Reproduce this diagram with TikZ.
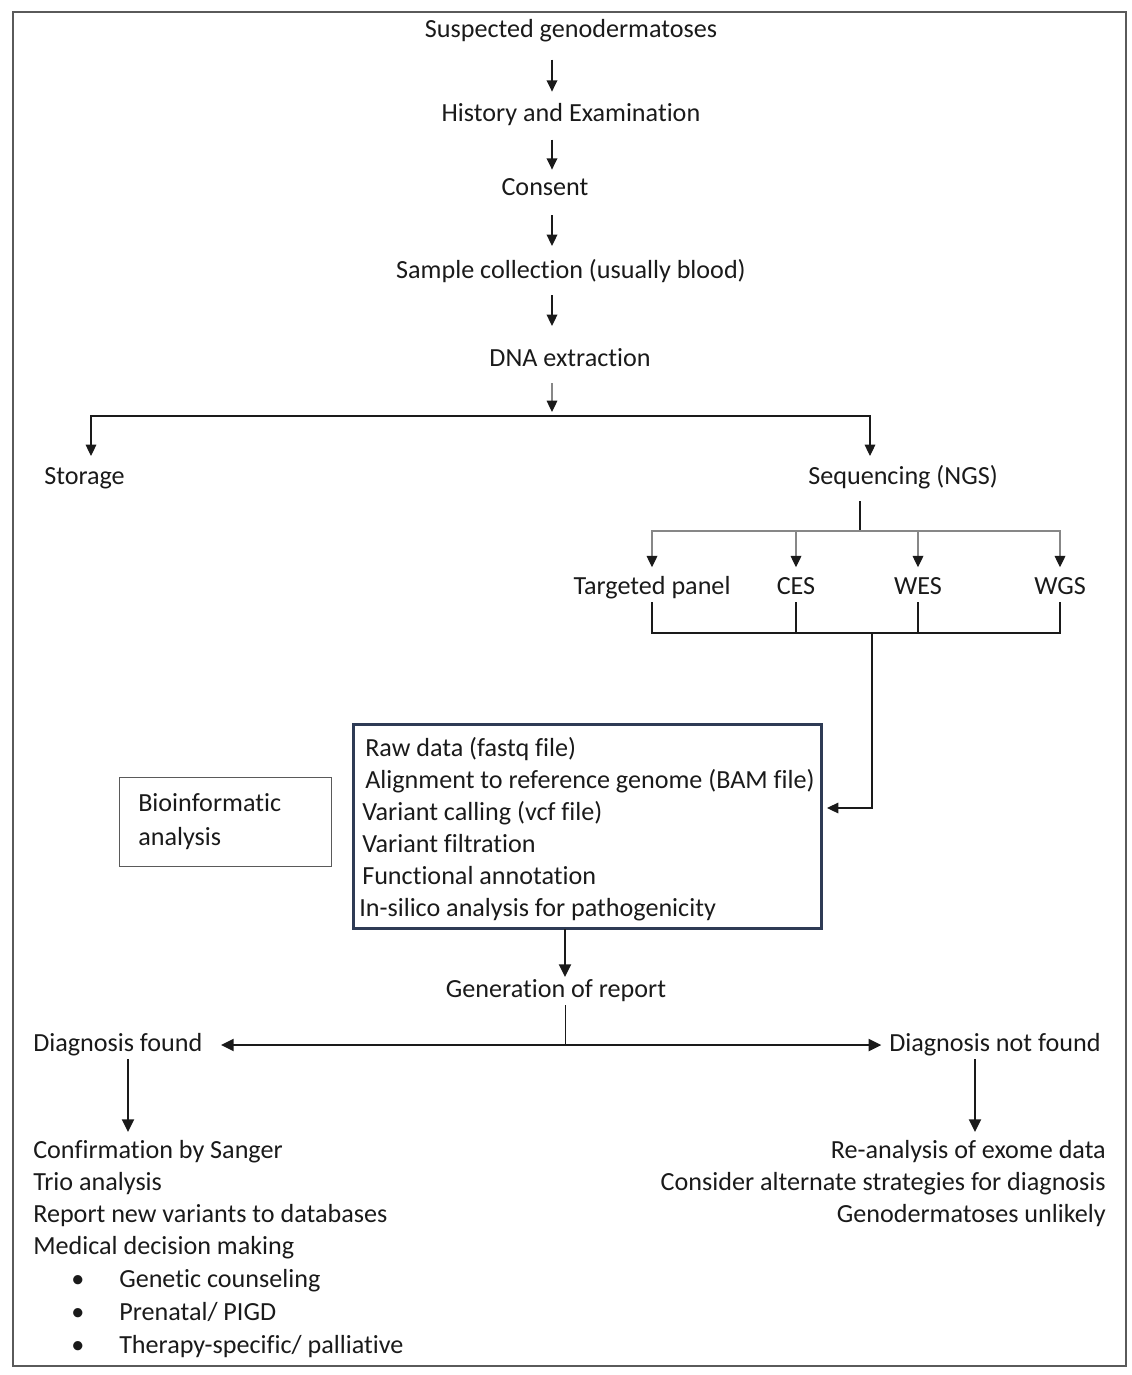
\documentclass[tikz,border=0pt]{standalone}
\usepackage{fontspec}
\setmainfont{Carlito}[Ligatures=NoCommon]
\usetikzlibrary{arrows.meta}
\definecolor{txt}{RGB}{26,26,26}
\definecolor{navy}{RGB}{46,59,85}
\definecolor{lgray}{RGB}{135,135,135}
\definecolor{frame}{RGB}{90,90,90}

\begin{document}
\begin{tikzpicture}[x=0.75pt,y=0.75pt,yscale=-1,xscale=1,
  every node/.style={inner sep=0.75pt, text=txt, font=\fontsize{19.6}{24}\selectfont, text height=14.5pt, text depth=4.7pt},
  tip/.style={-{Triangle[length=8.5pt,width=8pt]}},
  arr/.style={draw=txt, line width=1.1pt, tip},
  arrthin/.style={draw=txt, line width=0.8pt, tip},
  arrgray/.style={draw=lgray, line width=0.9pt, -{Triangle[length=8.5pt,width=8pt,color=txt]}},
  arrbold/.style={draw=txt, line width=1.5pt, -{Triangle[length=9.5pt,width=9pt]}},
  link/.style={draw=txt, line width=0.9pt},
]
\useasboundingbox (0,0) rectangle (1132,1375);
%outer frame
\draw [frame, line width=0.8pt] (13,12) rectangle (1126,1366);

% Text Node
\node (susp) at (571,31) {Suspected genodermatoses};
\node (hist) at (571,115) {History and Examination};
\node (cons) at (545,189) {Consent};
\node (samp) at (571,272) {Sample collection (usually blood)};
\node (dna) at (570,360) {DNA extraction};
\node [anchor=west] (sto) at (43,478) {Storage};
\node (seq) at (903,478) {Sequencing (NGS)};

\node (tp) at (652,588) {Targeted panel};
\node (ces) at (796,588) {CES};
\node (wes) at (918,588) {WES};
\node (wgs) at (1060,588) {WGS};

%pipeline box
\node [draw=navy, line width=2.25pt, minimum width=351pt, minimum height=153pt] (pipe) at (587,826) {};
\foreach \t/\x/\y [count=\i] in {Raw data (fastq file)/364/750, Alignment to reference genome (BAM file)/364/782, Variant calling (vcf file)/361/814, Variant filtration/361/846, Functional annotation/361/878, In-silico analysis for pathogenicity/358/910}
  \node [anchor=west] (step\i) at (\x,\y) {\t};

\node [draw=frame, line width=0.6pt, minimum width=159pt, minimum height=66.75pt] (bio) at (225,822) {};
\node [anchor=west] (bio1) at (137,805) {Bioinformatic};
\node [anchor=west] (bio2) at (137,839) {analysis};

\node (report) at (556,991) {Generation of report};
\node [anchor=west] (dfound) at (32,1045) {Diagnosis found};
\node [anchor=west] (dnot) at (888,1045) {Diagnosis not found};

\foreach \t/\y [count=\i] in {Confirmation by Sanger/1152, Trio analysis/1184, Report new variants to databases/1216, Medical decision making/1248}
  \node [anchor=west] (fl\i) at (32,\y) {\t};
\foreach \t/\y [count=\i] in {Genetic counseling/1281, {Prenatal/ PIGD}/1314, {Therapy-specific/ palliative}/1347}
  {\node (bl\i) at (78,\y) {\textbullet};
   \node [anchor=west] (sub\i) at (118,\y) {\t};}
\foreach \t/\y [count=\i] in {Re-analysis of exome data/1152, Consider alternate strategies for diagnosis/1184, Genodermatoses unlikely/1216}
  \node [anchor=east] (nl\i) at (1107,\y) {\t};

%Coordinates
\coordinate (split) at (552,416);
\coordinate (stotop) at (91,456);
\coordinate (seqtop) at (870,456);
\coordinate (fork) at (860,531);
\coordinate (merge) at (872,633);
\coordinate (pipein) at (827,808);
\coordinate (pipeout) at (565,929);
\coordinate (fbot) at (128,1132);
\coordinate (nbot) at (975,1132);

%Straight Lines
\draw [arr, shorten <=11pt, shorten >=7pt] (susp.south -| split) -- (hist.north -| split);
\draw [arr, shorten <=8pt, shorten >=4pt] (hist.south -| split) -- (cons.north -| split);
\draw [arr, shorten <=9pt, shorten >=9pt] (cons.south -| split) -- (samp.north -| split);
\draw [arr, shorten <=7pt, shorten >=15pt] (samp.south -| split) -- (dna.north -| split);
\draw [arrgray, shorten <=7pt, shorten >=3pt] (dna.south -| split) -- (split);
\draw [link] (stotop |- split) -- (seqtop |- split);
\draw [arrthin] (split) -| (stotop);
\draw [arrthin] (split) -| (seqtop);

\draw [link, shorten <=7pt] (fork |- seq.south) -- (fork);
\foreach \n in {tp,ces,wes,wgs}
  \draw [arrgray, shorten >=5pt] (fork) -| (\n.north);
\draw [link] (tp.south) |- (merge) -| (wgs.south);
\draw [link] (ces.south) -- (ces.south |- merge);
\draw [link] (wes.south) -- (wes.south |- merge);
\draw [arrthin] (merge) |- (pipein);

\draw [arrbold] (pipeout) -- (pipeout |- report.north);
\draw [draw=txt, line width=0.5pt] (pipeout |- report.south) -- (pipeout |- dfound);
\draw [arrbold, {Triangle[length=9.5pt,width=9pt]}-{Triangle[length=9.5pt,width=9pt]}, shorten <=13pt, shorten >=5pt] (dfound.east) -- (dnot.west);
\draw [arrbold] (dfound.south -| fbot) -- (fbot);
\draw [arrbold] (dnot.south -| nbot) -- (nbot);

\end{tikzpicture}
\end{document}
